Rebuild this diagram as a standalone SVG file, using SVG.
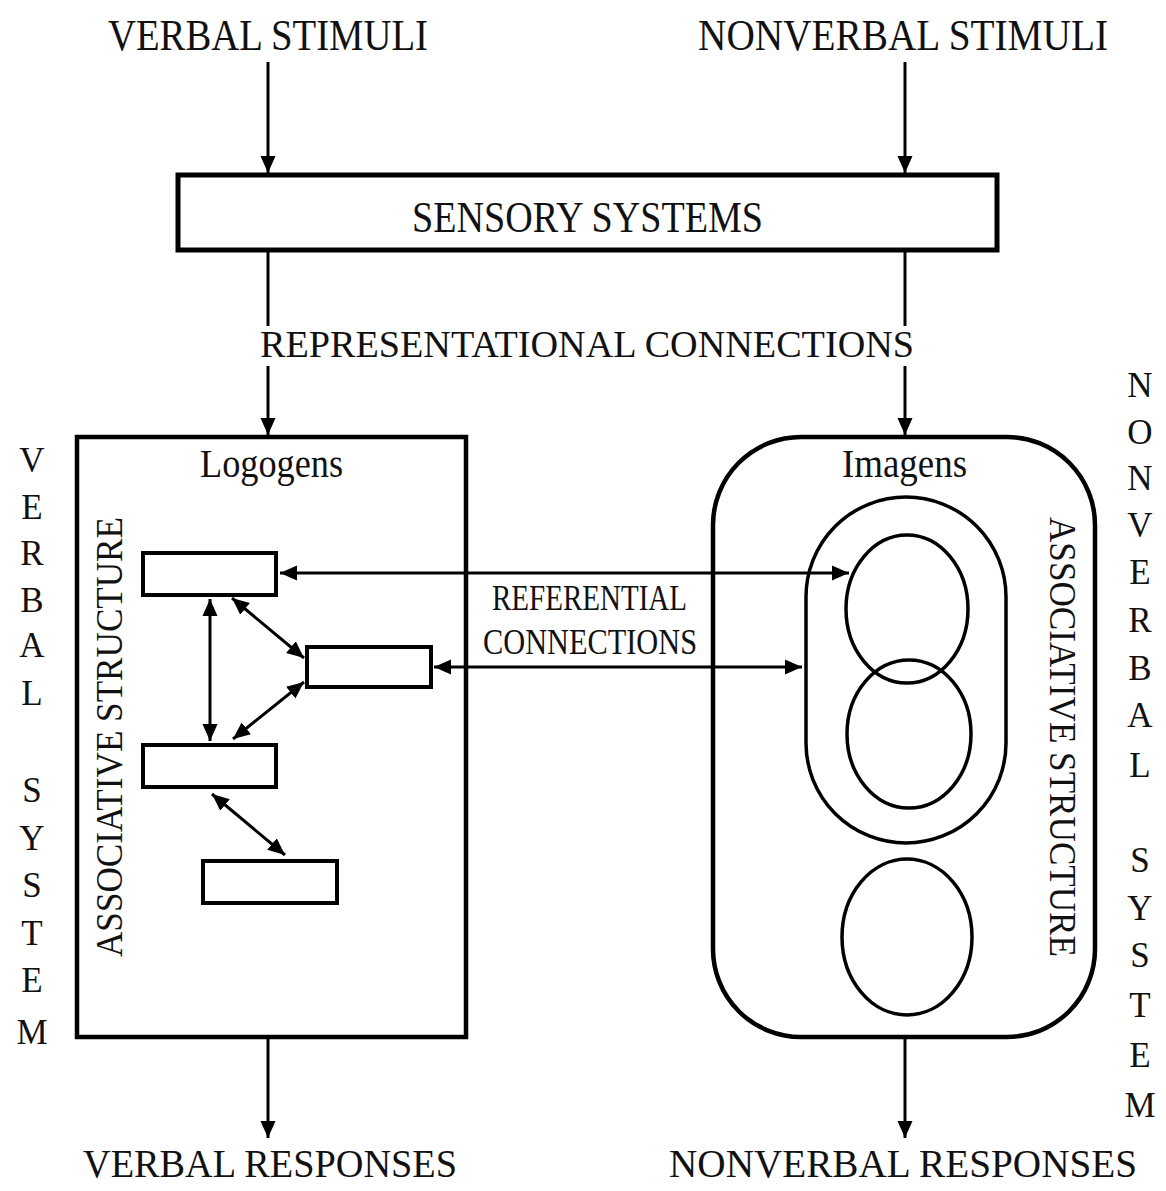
<svg xmlns="http://www.w3.org/2000/svg" width="1166" height="1191" viewBox="0 0 1166 1191">
<defs>
<marker id="ah" markerUnits="userSpaceOnUse" markerWidth="18" markerHeight="16" viewBox="0 0 18 16" refX="17" refY="8" orient="auto-start-reverse"><path d="M0,0.5 L17,8 L0,15.5 z" fill="#000"/></marker>
</defs>
<style>
text{font-family:"Liberation Serif","Times New Roman",serif;fill:#111}
.box{fill:none;stroke:#000;stroke-width:4.5}
.sm{fill:#fff;stroke:#000;stroke-width:4}
.el{fill:none;stroke:#000;stroke-width:3.5}
.cn{stroke:#000;stroke-width:3;fill:none}
.ar{marker-end:url(#ah)}
.dbl{marker-start:url(#ah);marker-end:url(#ah)}
.big{font-size:44px}
.bot{font-size:41px}
.mid{font-size:37px}
.lab{font-size:40px}
.ref{font-size:35px}
.side{font-size:35px}
</style>
<rect width="1166" height="1191" fill="#fff"/>

<g id="labels">
<text class="big" x="268" y="50" text-anchor="middle" textLength="320" lengthAdjust="spacingAndGlyphs">VERBAL STIMULI</text>
<text class="big" x="903" y="50" text-anchor="middle" textLength="410" lengthAdjust="spacingAndGlyphs">NONVERBAL STIMULI</text>
<text class="mid" x="587" y="357" text-anchor="middle" textLength="654" lengthAdjust="spacingAndGlyphs">REPRESENTATIONAL CONNECTIONS</text>
<text class="ref" x="589.5" y="610" text-anchor="middle" textLength="195" lengthAdjust="spacingAndGlyphs">REFERENTIAL</text>
<text class="ref" x="590" y="654" text-anchor="middle" textLength="214" lengthAdjust="spacingAndGlyphs">CONNECTIONS</text>
<text class="bot" x="270" y="1177" text-anchor="middle" textLength="374" lengthAdjust="spacingAndGlyphs">VERBAL RESPONSES</text>
<text class="bot" x="903" y="1177" text-anchor="middle" textLength="468" lengthAdjust="spacingAndGlyphs">NONVERBAL RESPONSES</text>
</g>

<g id="verbal-system-label" class="side" text-anchor="middle">
<text x="32" y="472">V</text><text x="32" y="519">E</text><text x="32" y="565">R</text><text x="32" y="612">B</text><text x="32" y="657">A</text><text x="32" y="705">L</text>
<text x="32" y="802">S</text><text x="32" y="850">Y</text><text x="32" y="897">S</text><text x="32" y="945">T</text><text x="32" y="992">E</text><text x="32" y="1044">M</text>
</g>

<g id="nonverbal-system-label" class="side" text-anchor="middle">
<text x="1140" y="397">N</text><text x="1140" y="444">O</text><text x="1140" y="490">N</text><text x="1140" y="537">V</text><text x="1140" y="584">E</text><text x="1140" y="632">R</text><text x="1140" y="680">B</text><text x="1140" y="727">A</text><text x="1140" y="777">L</text>
<text x="1140" y="872">S</text><text x="1140" y="920">Y</text><text x="1140" y="967">S</text><text x="1140" y="1017">T</text><text x="1140" y="1067">E</text><text x="1140" y="1117">M</text>
</g>

<g id="sensory-systems">
<rect x="178" y="175" width="819" height="75" fill="none" stroke="#000" stroke-width="5"/>
<text class="big" x="587.5" y="232" text-anchor="middle" textLength="351" lengthAdjust="spacingAndGlyphs">SENSORY SYSTEMS</text>
</g>

<g id="logogens">
<rect class="box" x="77" y="437" width="389" height="600"/>
<text class="lab" x="271.5" y="477" text-anchor="middle" textLength="143" lengthAdjust="spacingAndGlyphs">Logogens</text>
<text class="mid" transform="translate(122,737) rotate(-90)" text-anchor="middle" textLength="440" lengthAdjust="spacingAndGlyphs">ASSOCIATIVE STRUCTURE</text>
</g>
<g id="logogen-a"><rect class="sm" x="143" y="553" width="133" height="42"/></g>
<g id="logogen-b"><rect class="sm" x="307" y="647" width="124" height="40"/></g>
<g id="logogen-c"><rect class="sm" x="143" y="745" width="133" height="42"/></g>
<g id="logogen-d"><rect class="sm" x="203" y="861" width="134" height="42"/></g>

<g id="imagens">
<rect class="box" x="713" y="437" width="382" height="600" rx="88" ry="88"/>
<text class="lab" x="904.5" y="477" text-anchor="middle" textLength="125" lengthAdjust="spacingAndGlyphs">Imagens</text>
<text class="mid" transform="translate(1050,737) rotate(90)" text-anchor="middle" textLength="440" lengthAdjust="spacingAndGlyphs">ASSOCIATIVE STRUCTURE</text>
</g>
<g id="imagen-cluster"><rect class="el" x="806" y="497" width="200" height="346" rx="100" ry="100"/></g>
<g id="imagen-a"><ellipse class="el" cx="907" cy="609" rx="61" ry="74"/></g>
<g id="imagen-b"><ellipse class="el" cx="909" cy="734" rx="62" ry="74"/></g>
<g id="imagen-c"><ellipse class="el" cx="907" cy="937" rx="65" ry="78"/></g>

<g id="connectors" class="cn">
<line class="ar" x1="268" y1="62" x2="268" y2="173"/>
<line class="ar" x1="905" y1="62" x2="905" y2="173"/>
<line x1="268" y1="252" x2="268" y2="326"/>
<line class="ar" x1="268" y1="366" x2="268" y2="435"/>
<line x1="905" y1="252" x2="905" y2="326"/>
<line class="ar" x1="905" y1="366" x2="905" y2="435"/>
<line class="ar" x1="268" y1="1039" x2="268" y2="1138"/>
<line class="ar" x1="905" y1="1039" x2="905" y2="1138"/>
<line class="dbl" x1="280" y1="573" x2="849" y2="573"/>
<line class="dbl" x1="434" y1="667" x2="802" y2="667"/>
<line class="dbl" x1="210" y1="599" x2="210" y2="741"/>
<line class="dbl" x1="232" y1="598" x2="304" y2="658"/>
<line class="dbl" x1="304" y1="682" x2="233" y2="739"/>
<line class="dbl" x1="212" y1="794" x2="285" y2="855"/>
</g>
</svg>
